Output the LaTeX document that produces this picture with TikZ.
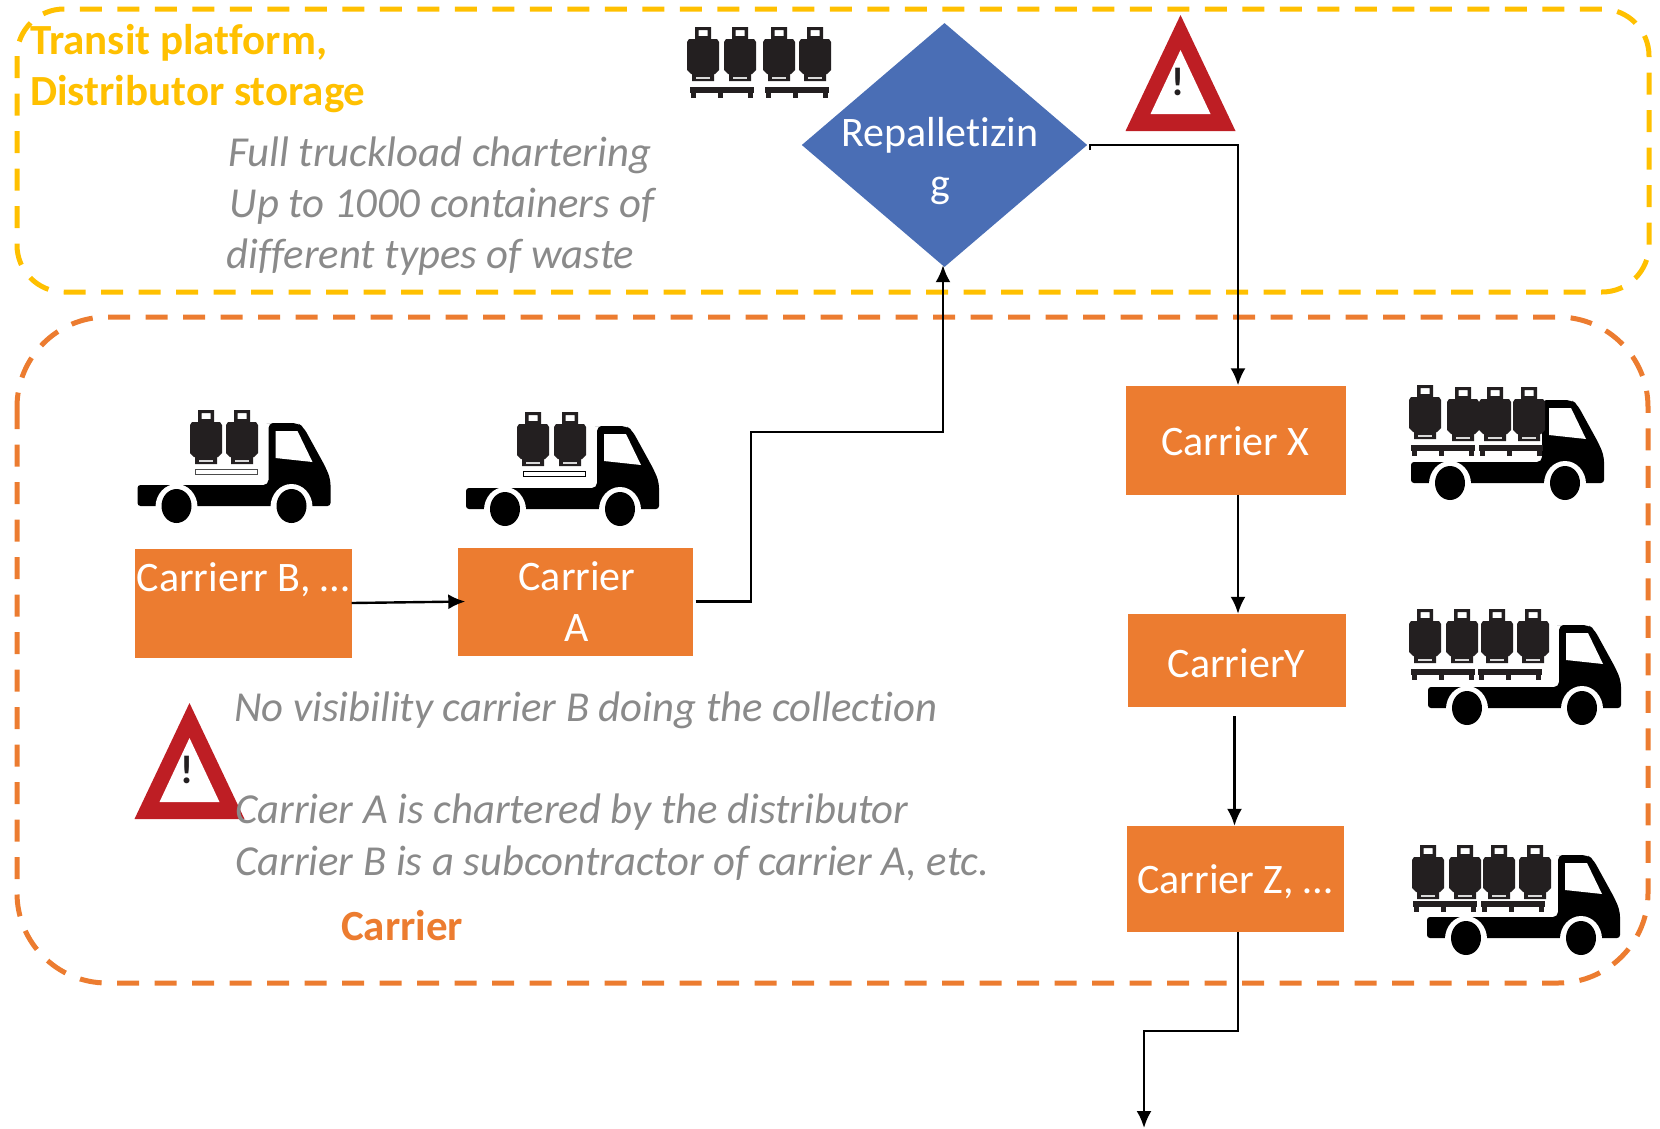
\documentclass[tikz,border=0pt]{standalone}
\usepackage{fontspec}
\setmainfont[Ligatures=NoCommon]{Carlito}
\usetikzlibrary{shapes.geometric,arrows.meta}
\definecolor{cOrange}{HTML}{EC7C30}
\definecolor{cYellow}{HTML}{FFC000}
\definecolor{cBlue}{HTML}{4A6EB5}
\definecolor{cGrey}{HTML}{8A8A8A}
\definecolor{cRed}{HTML}{BE1E24}
\definecolor{cDark}{HTML}{231F20}
\newcommand{\lbl}{\fontsize{42}{51}\selectfont}
\newcommand{\note}{\fontsize{42.7}{51}\selectfont\itshape}
\newcommand{\head}{\fontsize{43}{51}\selectfont\bfseries}
\tikzset{
  x=1pt,y=-1pt,
  orangebox/.style={fill=cOrange,draw=none,inner sep=0pt,text=white,align=center,font=\lbl},
  conn/.style={line width=2.4pt,draw=black,-{Latex[length=17pt,width=15pt]}},
  zone/.style={line width=5pt,dash pattern=on 22pt off 15.5pt},
  notetext/.style={anchor=base west,inner sep=0pt,text=cGrey,font=\note},
  headtext/.style={anchor=base west,inner sep=0pt,font=\head},
  cylinder icon/.pic={
    \fill[cDark,even odd rule] (8,0) rectangle (24,13) (11.5,3) rectangle (20.5,9);
    \fill[cDark] (2,12) -- (30,12) -- (32,15) -- (32,43) -- (28,47) -- (27,47) -- (27,54) -- (5,54) -- (5,47) -- (4,47) -- (0,43) -- (0,15) -- cycle;
    \fill[white!85!black] (9,49.5) rectangle (23,51.5);
  },
  pallet icon/.pic={
    \fill[cDark] (0,0) rectangle (64,6);
    \foreach \q in {1,28,58}{\fill[cDark] (\q,6) rectangle (\q+5,10.5);}
  },
  truck icon/.pic={
    \fill[black] (135,0) [rounded corners=5pt] -- (131,0) -- (131,62) [rounded corners=3pt] -- (0,62) -- (0,83) -- (193,83) [rounded corners=6pt] -- (193,56) -- (188,44) -- (166,4) -- (160,0) -- cycle;
    \fill[white] (138,8) -- (160,8) -- (175,39) -- (138,35) -- cycle;
    \fill[white] (39,84) ellipse (21 and 23);
    \fill[white] (154,84) ellipse (21 and 23);
    \fill[white] (0,83.5) rectangle (193,100);
    \fill[black] (39,83) ellipse (15 and 17);
    \fill[black] (154,83) ellipse (15 and 17);
  },
  warn icon/.pic={
    \fill[cRed] (55,0) -- (110,116) -- (0,116) -- cycle;
    \fill[white] (55,35) -- (85,99) -- (25,99) -- cycle;
    \node[inner sep=0pt,font=\fontsize{40}{40}\selectfont\bfseries,text=cDark] at (52.5,67) {!};
  }
}
\begin{document}
\begin{tikzpicture}
\useasboundingbox (0,0) rectangle (1660,1128);
% zones
\draw[zone,cYellow,rounded corners=47pt] (17,9) rectangle (1649,292);
\draw[zone,cOrange,rounded corners=90pt] (17,317) rectangle (1648,983);
% zone headings
\node[headtext,text=cYellow] (hT) at (30,54.5) {Transit platform,};
\node[headtext,text=cYellow] (hD) at (30,105.5) {Distributor storage};
\node[headtext,text=cOrange] (hC) at (341,940.5) {Carrier};
% warnings
\pic at (1125.5,15) {warn icon};
\pic at (134.5,703) {warn icon};
% notes
\node[notetext] (n1) at (228.5,166.5) {Full truckload chartering};
\node[notetext] (n2) at (229.5,217.5) {Up to 1000 containers of};
\node[notetext] (n3) at (226.5,268.5) {different types of waste};
\node[notetext] (n4) at (234,721.5) {No visibility carrier B doing the collection};
\node[notetext] (n5) at (235,823.5) {Carrier A is chartered by the distributor};
\node[notetext] (n6) at (235,875.5) {Carrier B is a subcontractor of carrier A, etc.};
% process nodes
\node[diamond,fill=cBlue,draw=none,inner sep=0pt,minimum width=285.5pt,minimum height=244pt,aspect=1.17] (D) at (944.5,145) {};
\node[inner sep=0pt,text=white,align=center,font=\lbl] (Dt) at (940,161) {Repalletizin\\g};
\node[orangebox,minimum width=217pt,minimum height=109pt] (B) at (243,603) {Carrierr B, …\\\mbox{}};
\node[orangebox,minimum width=235pt,minimum height=108pt] (A) at (575,601.5) {\hspace*{4pt}Carrier\\\hspace*{4pt}A};
\node[orangebox,minimum width=220pt,minimum height=109pt,text height=31pt,text depth=0pt] (X) at (1235.5,440) {Carrier X};
\node[orangebox,minimum width=218pt,minimum height=93pt,text height=33pt,text depth=0pt] (Y) at (1236.5,660.5) {CarrierY};
\node[orangebox,minimum width=217pt,minimum height=106pt,text height=29pt,text depth=0pt] (Z) at (1235,879) {Carrier Z, …};
% connector way points
\coordinate (a1) at (751,601.5);
\coordinate (a2) at (751,432);
\coordinate (a3) at (943,432);
\coordinate (d1) at (1238,145);
\coordinate (d0) at (1090,150);
\coordinate (z1) at (1238,932);
\coordinate (z2) at (1238,1031);
\coordinate (z3) at (1144,1031);
\coordinate (end) at (1144,1128);
% connectors
\draw[conn] (B.east) -- ([xshift=8pt]A.west);
\draw[conn] ([xshift=3pt]A.east) -- (a1) -- (a2) -- (a3) -- ([yshift=2pt]D.south -| a3);
\draw[conn] (d0) -- (1090,145) -- (d1) -- (d1 |- X.north);
\draw[conn] (X.south -| d1) -- (Y.north -| d1);
\draw[conn] ([xshift=-2pt,yshift=-9pt]Y.south) -- ([xshift=-.5pt]Z.north);
\draw[conn] (z1) -- (z2) -- (z3) -- (end);
% trucks
\pic at (137.5,423) {truck icon};
\pic at (466,426) {truck icon};
\pic at (1411,400) {truck icon};
\pic at (1428,625) {truck icon};
\pic at (1427,855) {truck icon};
% plank outlines
\draw[black!70,fill=white,line width=1pt] (195,469) rectangle (257,474.5);
\draw[black,fill=white,line width=1pt] (523,471) rectangle (585,476.5);
% cylinders, loose row
\foreach \q in {687,724,763,799}{\pic at (\q,27) {cylinder icon};}
\pic at (690,87) {pallet icon};
\pic at (765,87) {pallet icon};
% cylinders on trucks
\foreach \q in {190,226}{\pic at (\q,410) {cylinder icon};}
\foreach \q in {517,554}{\pic at (\q,412) {cylinder icon};}
\pic at (1409,385) {cylinder icon};
\foreach \q in {1447,1479,1513}{\pic at (\q,387) {cylinder icon};}
\pic at (1411,445) {pallet icon};
\pic at (1479,445) {pallet icon};
\foreach \q in {1409,1446,1481,1517}{\pic at (\q,609) {cylinder icon};}
\pic at (1411,669) {pallet icon};
\pic at (1478,669) {pallet icon};
\foreach \q in {1412,1449,1483,1519}{\pic at (\q,845) {cylinder icon};}
\pic at (1413,901) {pallet icon};
\pic at (1481,901) {pallet icon};
\end{tikzpicture}
\end{document}
